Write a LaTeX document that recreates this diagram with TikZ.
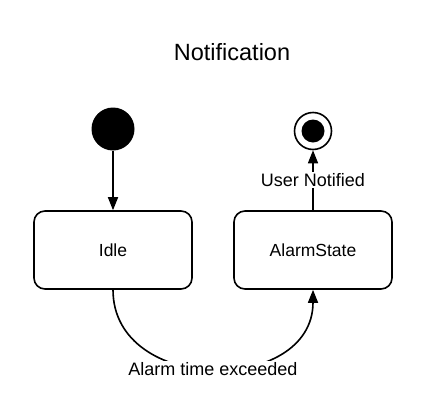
\documentclass[tikz,border=0pt]{standalone}
\usepackage{fontspec}
\setmainfont{Liberation Sans}
\usetikzlibrary{arrows.meta}

\tikzset{
  state/.style={draw,line width=1.6pt,rounded corners=11pt,minimum width=158pt,minimum height=78pt,
    font=\fontsize{17.5}{20}\selectfont},
  trans/.style={line width=1.6pt,-{Triangle[length=13pt,width=10pt]}},
  tlabel/.style={fill=white,inner sep=1.5pt,font=\fontsize{18}{20}\selectfont}
}

\begin{document}
\begin{tikzpicture}[x=1pt,y=-1pt]
  \useasboundingbox (0,0) rectangle (436,402);
  \node[font=\fontsize{23.5}{28}\selectfont] (title) at (232,52) {Notification};
  % initial and final pseudo states
  \node[circle,fill=black,minimum size=43pt,inner sep=0pt] (start) at (113,129) {};
  \node[circle,draw,line width=1.6pt,fill=white,minimum size=37pt,inner sep=0pt] (stop) at (313,131) {};
  \node[circle,fill=black,minimum size=23pt,inner sep=0pt] at (stop) {};
  % states
  \node[state] (idle) at (113,250) {Idle};
  \node[state] (alarm) at (313,250) {AlarmState};
  % transitions
  \draw[trans] (start) -- (idle);
  \draw[trans] (alarm) -- node[tlabel] {User Notified} (stop);
  \draw[trans] (idle.south) to[out=-90,in=-90,looseness=1.35]
    node[tlabel,pos=0.5] {Alarm time exceeded} (alarm.south);
\end{tikzpicture}
\end{document}
